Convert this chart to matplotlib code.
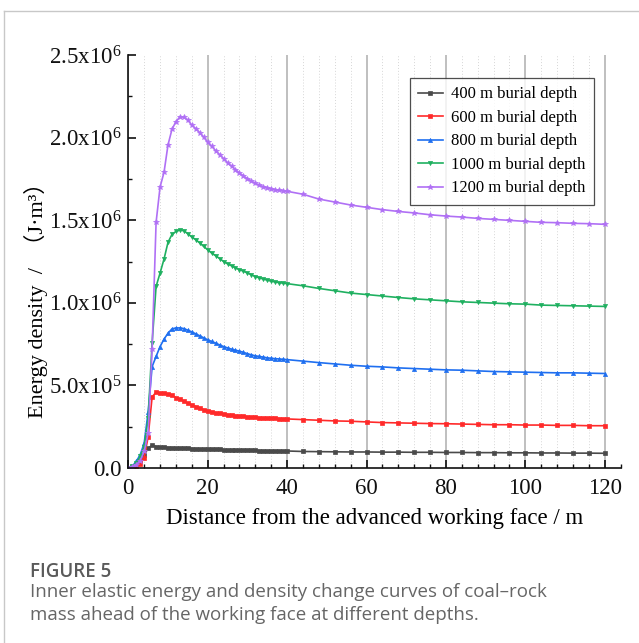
import numpy as np
import matplotlib
matplotlib.use("Agg")
import matplotlib.pyplot as plt
from matplotlib.ticker import MultipleLocator, FuncFormatter
from matplotlib.lines import Line2D

plt.rcParams['mathtext.fontset'] = 'custom'
plt.rcParams['mathtext.rm'] = 'Liberation Serif'
plt.rcParams['mathtext.it'] = 'Liberation Serif:italic'
plt.rcParams['font.family'] = ['Liberation Serif', 'Noto Sans CJK SC']

# ---- data (energy density in 10^6 J/m^3) ----
distance = list(range(0, 41)) + list(range(44, 121, 4))

depth_labels = ["400 m burial depth", "600 m burial depth", "800 m burial depth",
                "1000 m burial depth", "1200 m burial depth"]

e400 = [0.0, 0.005, 0.02, 0.04, 0.08, 0.119, 0.138, 0.130, 0.127, 0.125, 0.124,
        0.123, 0.122, 0.121, 0.120, 0.119, 0.118, 0.117, 0.116, 0.115, 0.114,
        0.113, 0.1125, 0.112, 0.111, 0.110, 0.109, 0.108, 0.108, 0.107, 0.107,
        0.106, 0.106, 0.105, 0.105, 0.104, 0.104, 0.104, 0.103, 0.103, 0.103,
        0.100, 0.099, 0.098, 0.097, 0.097, 0.096, 0.096, 0.095, 0.095, 0.094,
        0.094, 0.093, 0.093, 0.092, 0.092, 0.091, 0.091, 0.090, 0.090, 0.089]

e600 = [0.0, 0.003, 0.01, 0.025, 0.06, 0.19, 0.43, 0.459, 0.455, 0.451, 0.447,
        0.441, 0.426, 0.416, 0.404, 0.392, 0.382, 0.372, 0.362, 0.353, 0.347,
        0.339, 0.335, 0.331, 0.327, 0.323, 0.320, 0.317, 0.315, 0.313, 0.311,
        0.309, 0.307, 0.305, 0.303, 0.302, 0.301, 0.300, 0.299, 0.298, 0.297,
        0.293, 0.289, 0.285, 0.283, 0.279, 0.275, 0.273, 0.271, 0.269, 0.268,
        0.266, 0.264, 0.262, 0.262, 0.260, 0.260, 0.258, 0.258, 0.256, 0.256]

e800 = [0.0, 0.01, 0.04, 0.08, 0.15, 0.34, 0.614, 0.675, 0.735, 0.780, 0.816,
        0.842, 0.848, 0.848, 0.844, 0.834, 0.824, 0.812, 0.800, 0.788, 0.776,
        0.766, 0.756, 0.745, 0.735, 0.727, 0.719, 0.713, 0.707, 0.700, 0.692,
        0.685, 0.679, 0.675, 0.671, 0.667, 0.664, 0.662, 0.660, 0.658, 0.656,
        0.647, 0.638, 0.630, 0.622, 0.616, 0.612, 0.606, 0.602, 0.598, 0.594,
        0.592, 0.588, 0.584, 0.582, 0.580, 0.578, 0.576, 0.576, 0.574, 0.572]

e1000 = [0.0, 0.01, 0.03, 0.07, 0.13, 0.30, 0.759, 1.099, 1.180, 1.265, 1.366,
         1.414, 1.432, 1.440, 1.436, 1.418, 1.398, 1.382, 1.362, 1.341, 1.321,
         1.301, 1.285, 1.268, 1.250, 1.236, 1.224, 1.212, 1.200, 1.192, 1.180,
         1.170, 1.159, 1.151, 1.144, 1.137, 1.131, 1.126, 1.122, 1.119, 1.116,
         1.103, 1.087, 1.073, 1.059, 1.050, 1.041, 1.032, 1.024, 1.018, 1.012,
         1.006, 1.002, 0.998, 0.994, 0.992, 0.986, 0.984, 0.982, 0.980, 0.978]

e1200 = [0.0, 0.008, 0.02, 0.045, 0.10, 0.21, 0.72, 1.487, 1.701, 1.790, 1.956,
         2.050, 2.097, 2.125, 2.125, 2.105, 2.075, 2.054, 2.030, 2.002, 1.971,
         1.947, 1.921, 1.897, 1.873, 1.848, 1.826, 1.806, 1.786, 1.768, 1.751,
         1.737, 1.723, 1.712, 1.703, 1.696, 1.690, 1.685, 1.681, 1.678, 1.675,
         1.657, 1.628, 1.610, 1.592, 1.578, 1.564, 1.553, 1.544, 1.533, 1.525,
         1.519, 1.511, 1.505, 1.499, 1.493, 1.487, 1.485, 1.481, 1.479, 1.475]

series = [e400, e600, e800, e1000, e1200]
colors = ['#4a4a4a', '#ff2a2a', '#1f6ff0', '#1fb060', '#b070f5']
markers = ['s', 's', '^', 'v', '*']
msizes = [2.4, 2.4, 3.0, 3.0, 4.0]

fig = plt.figure(figsize=(6.39, 6.43), dpi=100)
ax = fig.add_axes([128.3 / 639, 1 - 468 / 643, (620.6 - 128.3) / 639, (468 - 55) / 643])

for vals, c, m, ms, lab in zip(series, colors, markers, msizes, depth_labels):
    ax.plot(distance, np.array(vals) * 1e6, color=c, lw=1.2, marker=m, ms=ms,
            mew=0.5, label=lab)

ax.set_xlim(0, 124)
ax.set_ylim(0, 2.5e6)
ax.xaxis.set_major_locator(MultipleLocator(20))
ax.xaxis.set_minor_locator(MultipleLocator(4))
ax.yaxis.set_major_locator(MultipleLocator(5e5))
ax.yaxis.set_minor_locator(MultipleLocator(2.5e5))


def yfmt(v, pos):
    if v < 1:
        return "0.0"
    e = int(np.floor(np.log10(v)))
    m = v / 10 ** e
    return "%.1fx10$^{%d}$" % (m, e)


ax.yaxis.set_major_formatter(FuncFormatter(yfmt))

ax.grid(which='major', axis='x', color='#b4b4b4', lw=1.2, ls='-')
ax.grid(which='minor', axis='x', color='#d6d6d6', lw=0.7, ls=(0, (1.0, 2.0)))
ax.set_axisbelow(True)

for s in ['top', 'right']:
    ax.spines[s].set_visible(False)
for s in ['left', 'bottom']:
    ax.spines[s].set_linewidth(1.2)
    ax.spines[s].set_color('#111111')

ax.tick_params(which='major', direction='in', length=6, width=1.2, labelsize=16.5,
               colors='#111111')
ax.tick_params(axis='x', which='major', pad=7)
ax.tick_params(axis='y', which='major', pad=5)
ax.tick_params(which='minor', direction='in', length=3, width=1.0, colors='#111111')

ax.set_xlabel("Distance from the advanced working face / m", fontsize=16.5, labelpad=7)
ax.set_ylabel("Energy density  /  （J·m³）", fontsize=16)
ax.yaxis.set_label_coords(-0.163, 0.42)

leg = ax.legend(loc='upper right', bbox_to_anchor=(0.946, 0.944), fontsize=12,
                frameon=True, fancybox=False, edgecolor='#222222', handlelength=1.5,
                labelspacing=0.45, borderpad=0.5, handletextpad=0.5, borderaxespad=0)
leg.get_frame().set_linewidth(0.9)

# card border
fig.add_artist(Line2D([3.5 / 639, 3.5 / 639], [0, 1 - 11 / 643], color='#c8c8c8', lw=1.0))
fig.add_artist(Line2D([3.5 / 639, 1], [1 - 11 / 643, 1 - 11 / 643], color='#c8c8c8', lw=1.0))

# caption
fig.text(30 / 639, 1 - 572 / 643, "FIGURE 5", fontsize=13.5, family='Open Sans',
         fontweight='semibold', color='#5a5a5a', va='center')
fig.text(30 / 639, 1 - 592 / 643,
         "Inner elastic energy and density change curves of coal\u2013rock",
         fontsize=13.5, family='Open Sans', color='#666666', va='center')
fig.text(30 / 639, 1 - 615 / 643, "mass ahead of the working face at different depths.",
         fontsize=13.5, family='Open Sans', color='#666666', va='center')

fig.savefig("out.png", dpi=100)
